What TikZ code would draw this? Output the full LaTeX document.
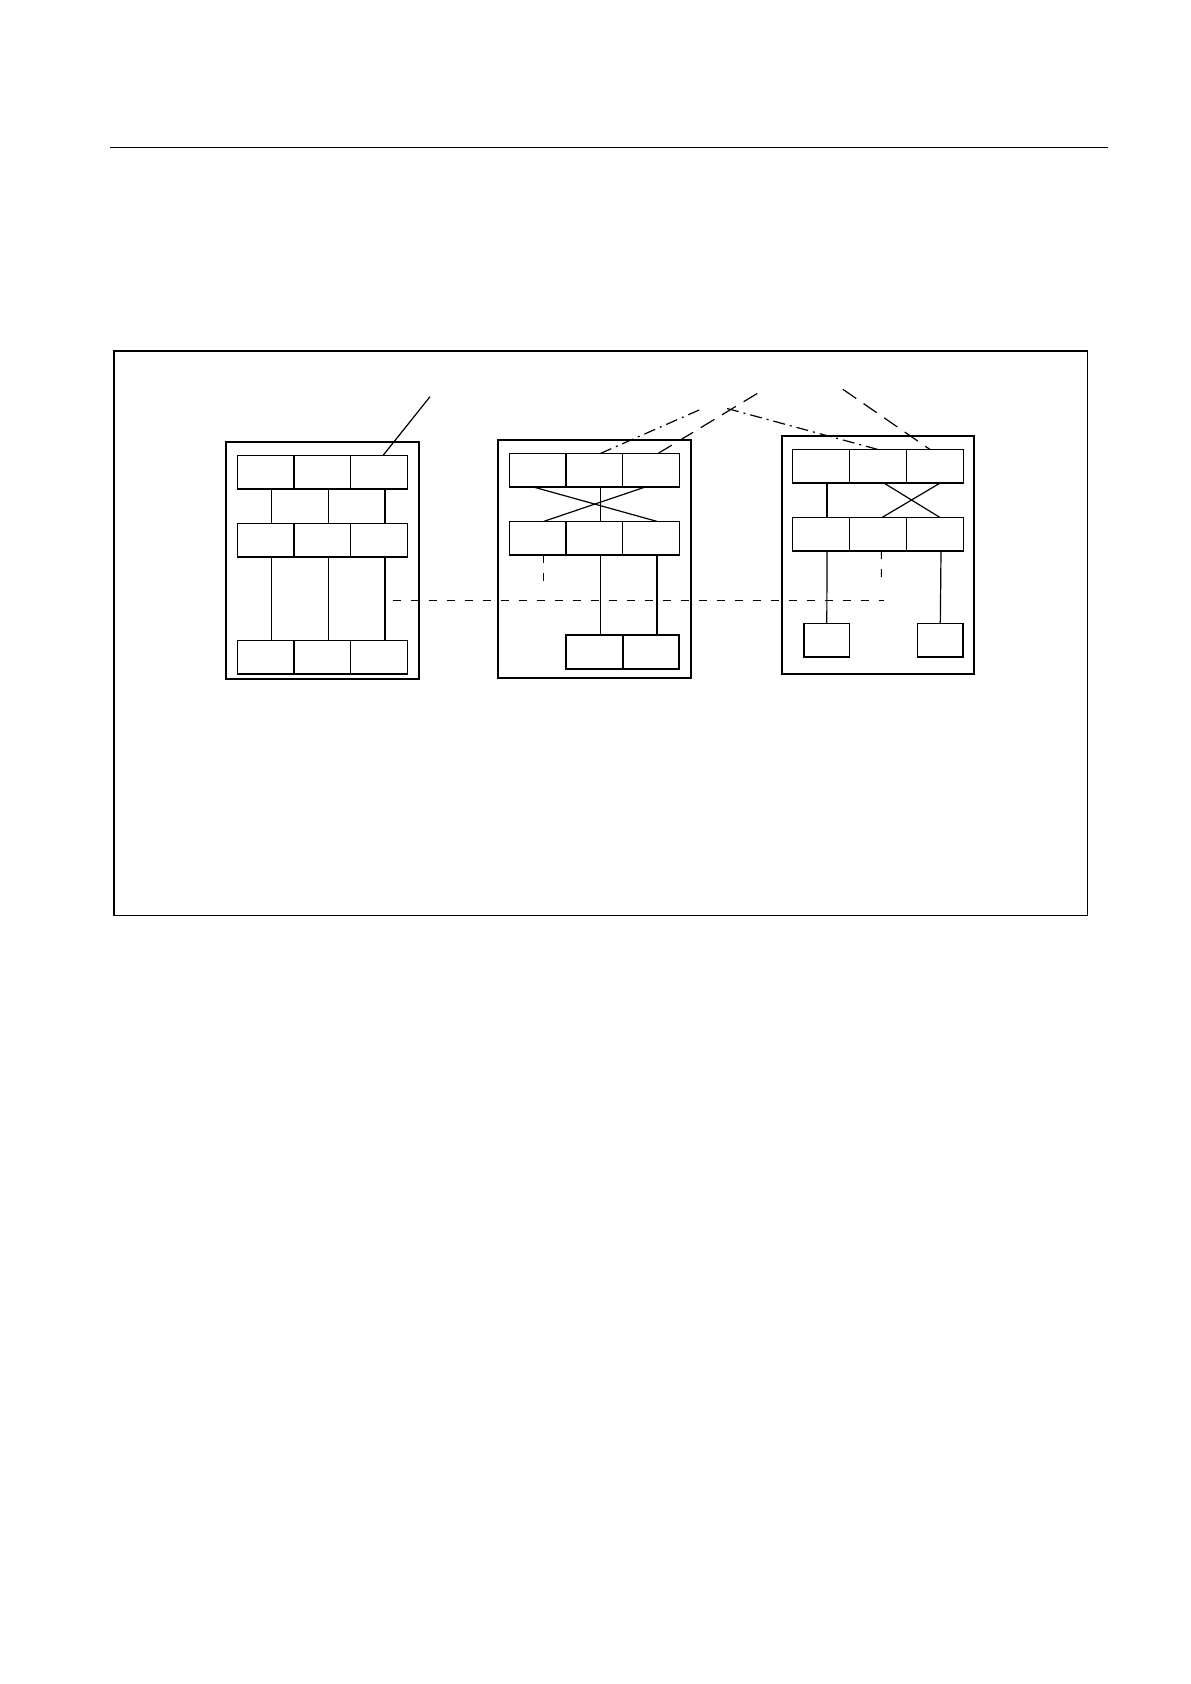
\documentclass[tikz,border=0pt]{standalone}
\usetikzlibrary{positioning}
\tikzset{
  cell/.style={draw, line width=0.7pt, minimum width=28.3pt, minimum height=16.8pt,
               inner sep=0pt, outer sep=0pt},
  small/.style={cell, minimum width=22.7pt},
  frame/.style={line width=1pt},
  link/.style={line width=0.6pt},
  dashline/.style={line width=0.5pt, dash pattern=on 4pt off 5pt},
  longdash/.style={line width=0.6pt, dash pattern=on 8pt off 4.5pt},
  dashdot/.style={line width=0.6pt, dash pattern=on 6pt off 2.5pt on 1pt off 2.5pt}
}
\begin{document}
\begin{tikzpicture}[x=0.5pt, y=-0.5pt]
\useasboundingbox (0,0) rectangle (1190,1684);
\draw[line width=0.6pt] (110,147.3) -- (1108.3,147.3);
\draw[line width=0.6pt] (114,351) rectangle (1087.7,915.3);
% left unit
\draw[frame] (226,441.7) rectangle (419.3,679.3);
\foreach \n/\x in {1/265.7, 2/322.3, 3/379}
    {\node[cell] (a1\n) at (\x, 472.3) {};
     \node[cell] (a2\n) at (\x, 540.3) {};
     \node[cell] (a3\n) at (\x, 657.3) {};}
\foreach \n in {1, 2, 3}
    {\draw[link] ([xshift=3pt]a1\n.south) -- ([xshift=3pt]a2\n.north);
     \draw[link] ([xshift=3pt]a2\n.south) -- ([xshift=3pt]a3\n.north);};
\coordinate (la) at (430,396.7);
\draw[link] ([xshift=2pt]a13.north) -- (la);
% middle unit
\draw[frame] (498.3,440) rectangle (690.7,678.3);
\foreach \n/\x in {1/537.7, 2/594.3, 3/651}
    {\node[cell] (b1\n) at (\x, 470.3) {};
     \node[cell] (b2\n) at (\x, 538.2) {};}
\node[cell, line width=0.9pt] (b31) at (594.3, 652) {};
\node[cell, line width=0.9pt] (b32) at (651, 652) {};
\draw[link] ([xshift=-2pt]b11.south) -- ([xshift=3pt]b23.north);
\draw[link] ([xshift=-3pt]b13.south) -- ([xshift=3pt]b21.north);
\draw[link] ([xshift=3pt]b12.south) -- ([xshift=3pt]b22.north);
\draw[link] ([xshift=3pt]b22.south) -- ([xshift=3pt]b31.north);
\draw[link] ([xshift=3pt]b23.south) -- ([xshift=3pt]b32.north);
% right unit
\draw[frame] (781.7,436) rectangle (974,674);
\foreach \n/\x in {1/821, 2/878, 3/935}
    {\node[cell] (c1\n) at (\x, 466.3) {};
     \node[cell] (c2\n) at (\x, 534.3) {};}
\node[small] (d1) at (826.8, 640.3) {};
\node[small] (d2) at (940.3, 640.3) {};
\draw[link] ([xshift=3pt]c11.south) -- ([xshift=3pt]c21.north);
\draw[link] ([xshift=3pt]c12.south) -- ([xshift=2.5pt]c23.north);
\draw[link] ([xshift=2.5pt]c13.south) -- ([xshift=2pt]c22.north);
\draw[link] ([xshift=3pt]c21.south) -- (d1.north);
\draw[link] ([xshift=3pt]c23.south) -- (d2.north);
% dashed links
\coordinate (hl) at (392.7,600);
\coordinate (hr) at (884,600);
\coordinate (vb) at (543.3,586.7);
\coordinate (vc) at (881.3,583.3);
\draw[dashline] (hl) -- (hr);
\draw[dashline] ([xshift=2.8pt]b21.south) -- (vb);
\draw[dashline] ([xshift=1.7pt]c22.south) -- (vc);
% leaders
\coordinate (lb) at (703,408.3);
\coordinate (lc) at (764,389.4);
\coordinate (ld) at (727,408.5);
\coordinate (le) at (843,389.4);
\draw[dashdot] ([xshift=3pt]b12.north) -- (lb);
\draw[longdash] ([xshift=3.5pt]b13.north) -- (lc);
\draw[dashdot] (ld) -- (c12.north);
\draw[longdash] (le) -- ([xshift=-2.5pt]c13.north);
\end{tikzpicture}
\end{document}
